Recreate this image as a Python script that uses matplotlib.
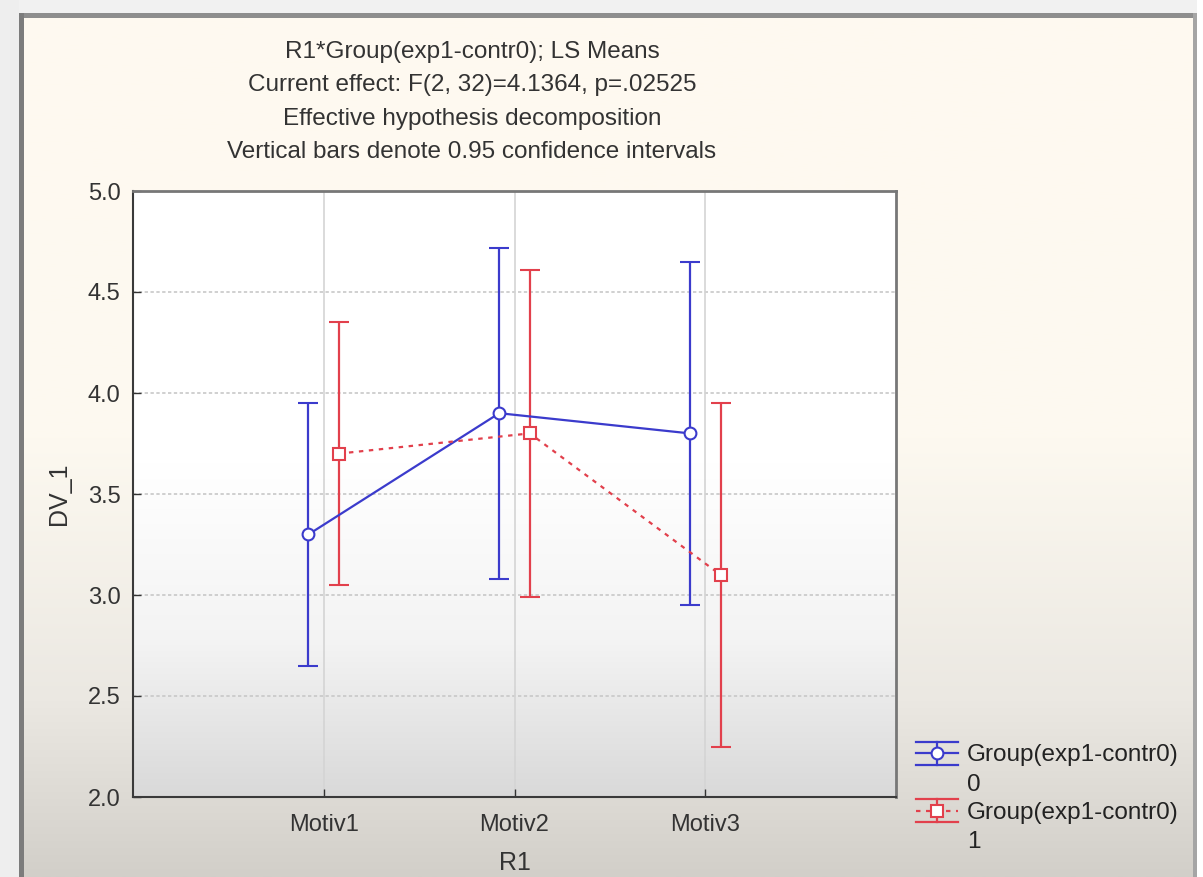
import numpy as np
import matplotlib
matplotlib.use("Agg")
import matplotlib.pyplot as plt
from matplotlib.patches import Rectangle
from matplotlib.lines import Line2D
from matplotlib.legend_handler import HandlerBase

# data
categories = ["Motiv1", "Motiv2", "Motiv3"]
group0_mean = [3.30, 3.90, 3.80]
group0_low = [2.65, 3.08, 2.95]
group0_high = [3.95, 4.72, 4.65]
group1_mean = [3.70, 3.80, 3.10]
group1_low = [3.05, 2.99, 2.25]
group1_high = [4.35, 4.61, 3.95]
yticks = [2.0, 2.5, 3.0, 3.5, 4.0, 4.5, 5.0]
title_lines = [
    "R1*Group(exp1-contr0); LS Means",
    "Current effect: F(2, 32)=4.1364, p=.02525",
    "Effective hypothesis decomposition",
    "Vertical bars denote 0.95 confidence intervals",
]
labels = ["Group(exp1-contr0)\n0", "Group(exp1-contr0)\n1"]

plt.rcParams['font.family'] = ['Liberation Sans', 'DejaVu Sans']

W, H = 1203, 877
fig = plt.figure(figsize=(W / 100, H / 100), dpi=100)


def hex_rgb(h):
    h = h.lstrip('#')
    return np.array([int(h[i:i + 2], 16) for i in (0, 2, 4)]) / 255.0


def vgradient(stops, n=400):
    pos = np.array([s[0] for s in stops])
    cols = np.array([hex_rgb(s[1]) for s in stops])
    t = np.linspace(0, 1, n)
    rgb = np.stack([np.interp(t, pos, cols[:, k]) for k in range(3)], axis=1)
    return rgb[:, None, :]


# figure background gradient
bg = fig.add_axes([0, 0, 1, 1], zorder=-10)
bg.imshow(vgradient([(0, '#fffaf0'), (0.5, '#fdf9f0'), (0.8, '#ebe8e2'), (1, '#d2cfc9')]),
          aspect='auto', extent=[0, 1, 0, 1], origin='upper')
bg.set_xlim(0, 1)
bg.set_ylim(0, 1)
bg.axis('off')


# window frame
def px_rect(x0, y0, x1, y1, color):
    bg.add_patch(Rectangle((x0 / W, 1 - y1 / H), (x1 - x0) / W, (y1 - y0) / H,
                           color=color, lw=0, transform=bg.transAxes))


px_rect(0, 0, W, 13, '#f1f1f1')
px_rect(0, 13, W - 8, 18, '#8e8e8e')
px_rect(0, 0, 19, H, '#eeeeee')
px_rect(19, 13, 24, H, '#7c7c7c')
px_rect(W - 10, 13, W - 6, H, '#a5a5a5')
px_rect(W - 6, 0, W, H, '#ffffff')

ax = fig.add_axes([133 / W, 1 - 797 / H, (896 - 133) / W, (797 - 191) / H])
ax.imshow(vgradient([(0, '#ffffff'), (0.45, '#ffffff'), (0.75, '#f3f3f3'), (1, '#d9d9d9')]),
          aspect='auto', extent=[0, 4, 2, 5], origin='upper', zorder=0)

x = np.arange(1, len(categories) + 1)
off = 0.08
blue = '#3b3bcc'
red = '#e2404c'
red_ls = (0, (2, 2.5))

e0 = ax.errorbar(x - off, group0_mean,
                 yerr=[np.subtract(group0_mean, group0_low), np.subtract(group0_high, group0_mean)],
                 color=blue, lw=1.6, elinewidth=1.6, capsize=7, capthick=1.6,
                 marker='o', ms=8.5, mfc='white', mec=blue, mew=1.5, zorder=3)
e1 = ax.errorbar(x + off, group1_mean,
                 yerr=[np.subtract(group1_mean, group1_low), np.subtract(group1_high, group1_mean)],
                 color=red, lw=1.6, elinewidth=1.6, capsize=7, capthick=1.6, ls=red_ls,
                 marker='s', ms=8.5, mfc='white', mec=red, mew=1.5, zorder=3)

ax.set_xlim(0, 4)
ax.set_ylim(2, 5)
ax.set_xticks(x)
ax.set_xticklabels(categories)
ax.set_yticks(yticks)
ax.set_yticklabels([f"{v:.1f}" for v in yticks])
ax.tick_params(direction='in', length=6, width=1, colors='#333333', labelsize=17, pad=9)
ax.tick_params(axis='x', pad=12)
for v in yticks[1:-1]:
    ax.axhline(v, color='#c8c8c8', lw=1.2, ls=(0, (2, 1.5)), zorder=1)
for v in x:
    ax.axvline(v, color='#d4d4d4', lw=1.2, zorder=1)
for s in ['left', 'bottom']:
    ax.spines[s].set_color('#3a3a3a')
    ax.spines[s].set_linewidth(1.5)
for s in ['top', 'right']:
    ax.spines[s].set_color('#777777')
    ax.spines[s].set_linewidth(2)

ax.set_xlabel("R1", fontsize=18, color='#333333', labelpad=11)
ax.set_ylabel("DV_1", fontsize=18, color='#333333', labelpad=12)

for i, line in enumerate(title_lines):
    fig.text(472 / W, 1 - (52 + 33.5 * i) / H, line, ha='center', va='center',
             fontsize=17.5, color='#333333')


class CIHandler(HandlerBase):
    """legend icon: mean marker with full-width CI caps, aligned to the first text line"""

    def __init__(self, color, marker, ls):
        super().__init__()
        self.color, self.marker, self.ls = color, marker, ls

    def create_artists(self, legend, orig_handle, xdescent, ydescent, width, height,
                       fontsize, trans):
        x0, x1 = -xdescent, -xdescent + width
        yc = -ydescent + height / 2 + 0.68 * fontsize
        half = 0.47 * fontsize
        arts = [
            Line2D([x0, x1], [yc, yc], color=self.color, lw=1.6, ls=self.ls),
            Line2D([x0, x1], [yc + half, yc + half], color=self.color, lw=1.6),
            Line2D([x0, x1], [yc - half, yc - half], color=self.color, lw=1.6),
            Line2D([(x0 + x1) / 2] * 2, [yc - half, yc + half], color=self.color, lw=1.6),
            Line2D([(x0 + x1) / 2], [yc], marker=self.marker, ms=8.5, mfc='white',
                   mec=self.color, mew=1.5, ls='none'),
        ]
        for a in arts:
            a.set_transform(trans)
        return arts


leg = fig.legend([e0, e1], labels, loc='upper left', bbox_to_anchor=(894 / W, 1 - 722 / H),
                 frameon=False, fontsize=17.5, handlelength=1.75, handletextpad=0.35,
                 labelspacing=0.25, labelcolor='#222222',
                 handler_map={e0: CIHandler(blue, 'o', '-'), e1: CIHandler(red, 's', red_ls)})
for t in leg.get_texts():
    t.set_linespacing(1.45)

fig.savefig("out.png", dpi=100)
